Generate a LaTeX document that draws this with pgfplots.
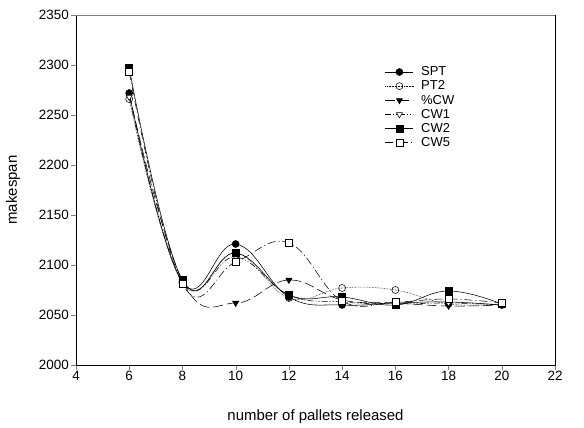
\documentclass[border=0pt]{standalone}
\usepackage{pgfplots}
\pgfplotsset{compat=1.18}
\usepackage{fontspec}
\setmainfont{Liberation Sans}
\begin{document}
\begin{tikzpicture}
\begin{axis}[
  scale only axis,
  width=479bp, height=350bp,
  xmin=4, xmax=22, ymin=2000, ymax=2350,
  xtick={4,6,...,22}, ytick={2000,2050,...,2350},
  tick align=outside, tick pos=left,
  major tick length=5bp,
  axis line style={line width=0.8pt},
  /pgf/number format/assume math mode=true,
  /pgf/number format/1000 sep={},
  tick label style={font=\fontsize{13.5}{15}\selectfont},
  xticklabel style={inner sep=1pt},
  yticklabel style={inner sep=2pt},
  legend style={draw=none, fill=none, at={(rel axis cs:0.645,0.857)}, anchor=north west,
    font=\fontsize{13}{14}\selectfont, row sep=0.6bp, column sep=6bp, inner sep=0pt,
    nodes={inner sep=1.5bp}},
  legend cell align=left,
  legend image code/.code={\draw[#1] (0bp,0bp) -- (28bp,0bp); \draw[#1,solid] plot coordinates {(14bp,0bp)};},
  every axis plot/.append style={line width=0.55pt, black, mark size=3.5bp},
  clip=false,
]
\addplot[smooth, tension=0.7, mark=*, mark options={solid, fill=black}] coordinates {
(6,2272) (8,2083) (10,2121) (12,2068) (14,2060) (16,2062) (18,2063) (20,2060)};
\addlegendentry{SPT}
\addplot[smooth, tension=0.7, densely dotted, mark=o, mark options={solid, fill=white}] coordinates {
(6,2266) (8,2082) (10,2112) (12,2067) (14,2077) (16,2075) (18,2061) (20,2061)};
\addlegendentry{PT2}
\addplot[smooth, tension=0.7, dash pattern=on 10bp off 4bp, mark=triangle*, mark options={solid, fill=black, rotate=180}] coordinates {
(6,2271) (8,2084) (10,2062) (12,2085) (14,2065) (16,2062) (18,2059) (20,2060)};
\addlegendentry{\%CW}
\addplot[smooth, tension=0.7, dash pattern=on 6bp off 2bp on 1bp off 2bp on 1bp off 2bp, mark=triangle*, mark options={solid, fill=white, rotate=180}] coordinates {
(6,2268) (8,2083) (10,2108) (12,2070) (14,2063) (16,2061) (18,2062) (20,2060)};
\addlegendentry{CW1}
\addplot[smooth, tension=0.7, mark=square*, mark options={solid, fill=black}] coordinates {
(6,2297) (8,2085) (10,2112) (12,2070) (14,2068) (16,2060) (18,2074) (20,2061)};
\addlegendentry{CW2}
\addplot[smooth, tension=0.7, dash pattern=on 8bp off 3bp on 1bp off 3bp, mark=square*, mark options={solid, fill=white}] coordinates {
(6,2293) (8,2081) (10,2103) (12,2122) (14,2064) (16,2063) (18,2066) (20,2062)};
\addlegendentry{CW5}
\draw[gray, line width=0.8pt] (rel axis cs:0,1) -- (rel axis cs:1,1);
\draw[black, line width=0.8pt] (rel axis cs:1,0) -- (rel axis cs:1,1);
\node[font=\fontsize{15}{17}\selectfont] at ([yshift=-52bp]rel axis cs:0.5,0) {number of pallets released};
\node[font=\fontsize{15}{17}\selectfont, xshift=-63bp, rotate=90] at (rel axis cs:0,0.5) {makespan};
\end{axis}
\path (current axis.south west) ++(-76bp,-62bp) coordinate (bbA);
\path (current axis.north east) ++(29bp,15bp) coordinate (bbB);
\useasboundingbox (bbA) rectangle (bbB);
\end{tikzpicture}
\end{document}
